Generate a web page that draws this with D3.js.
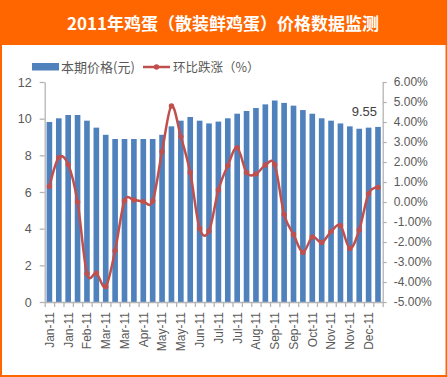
<!DOCTYPE html>
<html><head><meta charset="utf-8">
<script src="https://cdn.jsdelivr.net/npm/d3@7/dist/d3.min.js"></script>
<style>
html,body{margin:0;padding:0;background:#fff;}
svg{display:block;}
</style></head>
<body>
<script>
const title = "2011年鸡蛋（散装鲜鸡蛋）价格数据监测";
const seriesNames = ["本期价格(元)", "环比跌涨（%）"];
const categories = [
 "Jan-11","Jan-11","Jan-11","Feb-11","Feb-11","Feb-11","Mar-11","Mar-11","Mar-11",
 "Apr-11","Apr-11","Apr-11","May-11","May-11","May-11","Jun-11","Jun-11","Jun-11",
 "Jul-11","Jul-11","Jul-11","Aug-11","Aug-11","Aug-11","Sep-11","Sep-11","Sep-11",
 "Oct-11","Oct-11","Oct-11","Nov-11","Nov-11","Nov-11","Dec-11","Dec-11","Dec-11"];
const price = [9.82,10.02,10.2,10.2,9.89,9.51,9.12,8.89,8.89,8.89,8.89,8.89,
 9.12,9.58,9.89,10.09,9.89,9.74,9.84,10.02,10.27,10.42,10.58,10.78,
 10.99,10.86,10.71,10.47,10.27,10.02,9.89,9.74,9.58,9.45,9.51,9.55];
const change = [0.78,2.22,1.87,0.0,-3.58,-3.56,-4.23,-2.43,0.05,0.1,0.02,0.05,
 2.52,4.8,3.27,1.47,-1.32,-1.45,0.6,1.82,2.72,1.47,1.4,1.85,
 1.87,-0.62,-1.62,-2.52,-1.75,-2.02,-1.48,-1.18,-2.32,-1.4,0.42,0.73];
const leftTicks = [0,2,4,6,8,10,12];
const rightTicks = [6,5,4,3,2,1,0,-1,-2,-3,-4,-5];
const lastLabel = "9.55";

const W = 447, H = 377;
const svg = d3.select("body").append("svg").attr("width", W).attr("height", H);
svg.append("rect").attr("width", W).attr("height", H).attr("fill", "#FF6600");
svg.append("rect").attr("x", 2).attr("y", 45).attr("width", 443.5).attr("height", 330).attr("fill", "#fff");
svg.append("text").attr("x", 223).attr("y", 30).attr("text-anchor", "middle")
  .attr("fill", "#fff").attr("font-family", "Noto Sans CJK SC").attr("font-weight", "bold")
  .attr("font-size", 17).text(title);

const L = 44.7, R = 382.7, T = 82, B = 302;
const idx = d3.range(categories.length);
const x = d3.scaleBand().domain(idx).range([L, R]).paddingInner(0.4).paddingOuter(0.2);
const xl = d3.scaleLinear().domain([0, categories.length]).range([L, R]);
const yL = d3.scaleLinear().domain([0, 12]).range([B, T]);
const yR = d3.scaleLinear().domain([-5, 6]).range([B, T]);
const txt = "#595959", axc = "#B4B4B4";
const font = "Liberation Sans, Arial, sans-serif";

// bars
svg.append("g").selectAll("rect").data(price).join("rect")
  .attr("x", (d,i) => x(i)).attr("width", x.bandwidth())
  .attr("y", d => yL(d)).attr("height", d => yL(0) - yL(d))
  .attr("fill", "#4F81BD");

// axes
function styleAxis(g){
  g.select(".domain").attr("stroke", axc).attr("stroke-width", 1.3);
  g.selectAll(".tick line").attr("stroke", axc).attr("stroke-width", 1.3);
  g.selectAll("text").attr("fill", txt).attr("font-family", font);
}
const gl = svg.append("g").attr("transform", `translate(${L},0)`)
  .call(d3.axisLeft(yL).tickValues(leftTicks).tickSize(5).tickSizeOuter(0).tickPadding(8));
styleAxis(gl); gl.selectAll("text").attr("font-size", 12.5);
const gr = svg.append("g").attr("transform", `translate(${R},0)`)
  .call(d3.axisRight(yR).tickValues(rightTicks).tickSize(4).tickSizeOuter(0).tickPadding(7)
    .tickFormat(d => (d<0?"-":"") + Math.abs(d).toFixed(2) + "%"));
styleAxis(gr); gr.selectAll("text").attr("font-size", 12);

const gb = svg.append("g").attr("transform", `translate(0,${B})`)
  .call(d3.axisBottom(xl).tickValues(d3.range(categories.length + 1)).tickSize(5).tickSizeOuter(0).tickFormat(""));
styleAxis(gb);
const gbl = svg.append("g").attr("transform", `translate(0,${B})`)
  .call(d3.axisBottom(x).tickValues(idx.filter(i => i % 2 === 0)).tickSize(0).tickFormat(i => categories[i]));
gbl.select(".domain").remove();
gbl.selectAll("text").attr("fill", txt).attr("font-family", font).attr("font-size", 12)
  .attr("transform", "rotate(-90)").attr("text-anchor", "end")
  .attr("x", -10).attr("y", 0).attr("dy", "0.36em").attr("dx", 0);

// line
const line = d3.line().x((d,i) => x(i) + x.bandwidth()/2).y(d => yR(d)).curve(d3.curveCardinal.tension(0));
svg.append("path").datum(change).attr("d", line).attr("fill", "none")
  .attr("stroke", "#C0504D").attr("stroke-width", 2.5).attr("stroke-linejoin", "round");
svg.append("g").selectAll("circle").data(change).join("circle")
  .attr("cx", (d,i) => x(i) + x.bandwidth()/2).attr("cy", d => yR(d)).attr("r", 2.7)
  .attr("fill", "#C0504D");

// data label
const li = price.length - 1;
svg.append("text").attr("x", x(li) + x.bandwidth()/2 - 1).attr("y", yL(price[li]) - 11)
  .attr("text-anchor", "end").attr("fill", "#404040").attr("font-family", font).attr("font-size", 13)
  .text(lastLabel);

// legend
const lg = svg.append("g");
lg.append("rect").attr("x", 32).attr("y", 63).attr("width", 27).attr("height", 7.5).attr("fill", "#4F81BD");
lg.append("text").attr("x", 61).attr("y", 71.5).attr("fill", txt).attr("font-family", "Noto Sans CJK SC")
  .attr("font-size", 13).text(seriesNames[0]);
lg.append("line").attr("x1", 143).attr("x2", 170).attr("y1", 67).attr("y2", 67)
  .attr("stroke", "#C0504D").attr("stroke-width", 2.5);
lg.append("circle").attr("cx", 156.5).attr("cy", 67).attr("r", 2.7).attr("fill", "#C0504D");
lg.append("text").attr("x", 173).attr("y", 71.5).attr("fill", txt).attr("font-family", "Noto Sans CJK SC")
  .attr("font-size", 12.5).text(seriesNames[1]);
</script>
</body></html>
